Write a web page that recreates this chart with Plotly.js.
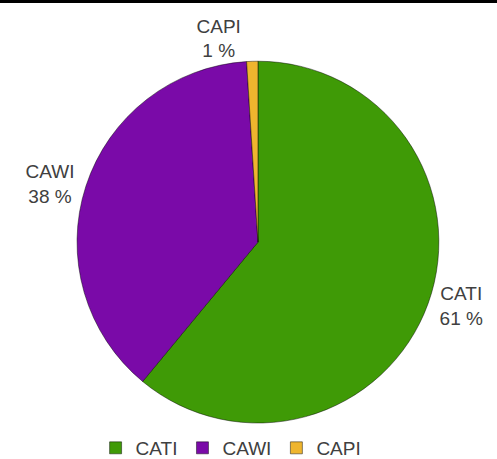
<!DOCTYPE html>
<html>
<head>
<meta charset="utf-8">
<script src="https://cdn.plot.ly/plotly-3.0.1.min.js"></script>
<style>html,body{margin:0;padding:0;background:#fff;}#chart{width:497px;height:459px;}</style>
</head>
<body>
<div id="chart"></div>
<script>
var categories = ["CATI", "CAWI", "CAPI"];
var shares = [61, 38, 1];
var sliceColors = ["#3f9a06", "#7a0aa8", "#efb52e"];

var trace = {
  type: "pie",
  labels: categories,
  values: shares,
  sort: false,
  direction: "clockwise",
  rotation: 0,
  marker: { colors: sliceColors, line: { color: "rgba(0,0,0,0.45)", width: 1 } },
  texttemplate: "%{label}<br>%{value} %",
  textposition: "outside",
  textfont: { family: "Liberation Sans, Arial, sans-serif", size: 19, color: "#404040" },
  hoverinfo: "label+percent",
  automargin: false,
  domain: { x: [0.155, 0.883], y: [0.076, 0.869] }
};

var layout = {
  width: 497,
  height: 459,
  margin: { l: 0, r: 0, t: 0, b: 0, autoexpand: false },
  paper_bgcolor: "#ffffff",
  showlegend: true,
  legend: {
    orientation: "h",
    x: 0.465, xanchor: "center",
    y: 0.024, yanchor: "middle",
    font: { family: "Liberation Sans, Arial, sans-serif", size: 19, color: "#404040" },
    itemwidth: 30,
    tracegroupgap: 0
  },
  shapes: [{
    type: "line", xref: "paper", yref: "paper",
    x0: 0, x1: 1, y0: 0.997, y1: 0.997,
    line: { color: "#000000", width: 3 }
  }]
};

Plotly.newPlot("chart", [trace], layout, { displayModeBar: false, staticPlot: true });
</script>
</body>
</html>
